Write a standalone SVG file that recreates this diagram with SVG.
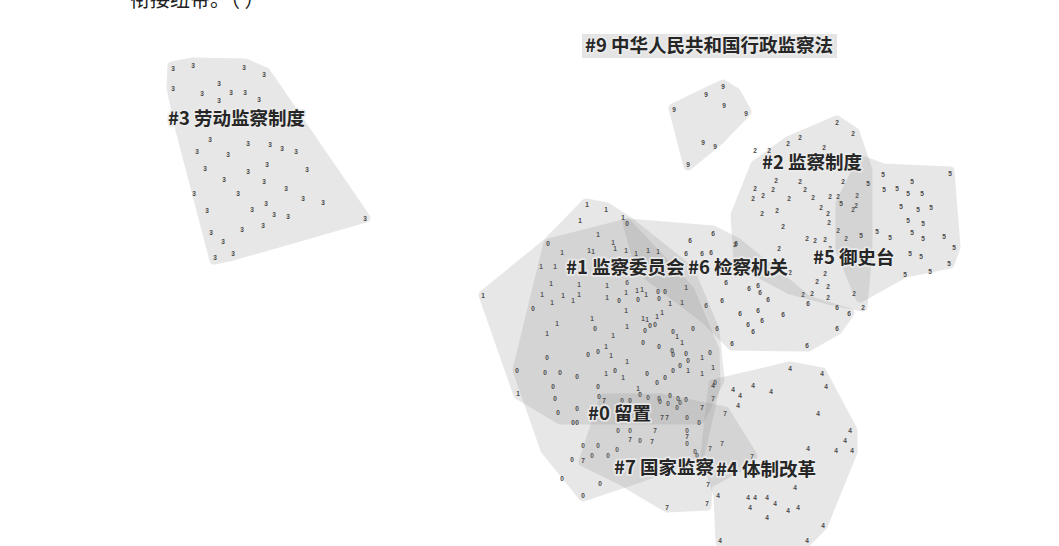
<svg xmlns="http://www.w3.org/2000/svg" width="1059" height="546" viewBox="0 0 1059 546">
<style>
.hull{opacity:0.2}
.hull polygon{fill:#8c8c8c;stroke:#8c8c8c;stroke-width:9;stroke-linejoin:round}
.d{font-family:"Liberation Sans",Arial,sans-serif;font-size:6.5px;font-weight:bold;fill:#4a4a4a;text-anchor:middle;dominant-baseline:central}
.lab{font-family:"Noto Sans CJK SC","Noto Sans",sans-serif;font-size:18.5px;font-weight:bold;fill:#262626;stroke:#ececec;stroke-opacity:0.85;stroke-width:3.5;stroke-linejoin:round;paint-order:stroke}
.top{font-family:"Noto Sans CJK SC",sans-serif;font-size:20px;fill:#222}
</style>
<rect width="1059" height="546" fill="#ffffff"/>
<text class="top" x="130" y="7">衔接纽带。（ ）</text>

<g id="cluster3">
<g class="hull"><polygon points="172,66 193,62 245,63 266,72 366,218 233,256 214,260 180,130 171,88"/></g>
<text class="d" x="173 193 244 264 173 219 202 231 245 219 259 210 248 270 282 296 197 228 205 248 267 307 224 264 194 238 286 303 323 266 207 252 274 288 365 263 242 211 223 215 233" y="68 65 67 74 88 83 93 92 92 100 99 139 143 144 148 151 151 154 168 171 164 169 179 181 193 193 188 198 202 203 210 209 214 216 218 225 229 232 241 257 253">33333333333333333333333333333333333333333</text>
</g>

<g id="cluster9">
<g class="hull"><polygon points="673,108 706,92 723,84 736,92 747,112 720,140 688,166"/></g>
<text class="d" x="674 706 723 724 746 703 715 688" y="109 94 86 105 113 142 146 164">99999999</text>
</g>

<g id="cluster2">
<g class="hull"><polygon points="755,165 788,141 837,120 855,132 868,170 868,250 863,307 828,300 790,290 738,262 735,215"/></g>
<text class="d" x="837 853 800 788 824 755 776 800 843 755 773 805 753 763 789 813 830 838 857 856 821 828 853 762 777 783 829 838 846 807 815 825 735 779 830 825 817 828 803 812 828 854 863 790 769" y="122 133 137 143 147 150 180 181 181 188 189 189 198 195 198 197 196 196 195 205 207 213 209 213 210 226 222 230 238 238 240 239 244 248 248 273 281 286 294 293 297 293 307 272 150">222222222222222222222222222222222222222222222</text>
</g>

<g id="cluster5">
<g class="hull"><polygon points="862,160 883,168 950,171 956,247 950,264 905,273 860,298 840,250 840,203"/></g>
<text class="d" x="883 912 950 868 884 897 908 922 841 901 918 931 908 923 877 861 890 912 923 944 954 910 921 949 930 905" y="174 181 173 183 189 188 193 193 203 206 209 207 220 223 231 235 237 232 238 236 247 253 256 263 271 274">55555555555555555555555555</text>
</g>

<g id="cluster6">
<g class="hull"><polygon points="627,223 713,230 737,242 808,300 850,313 838,330 808,347 732,346 706,320 640,270"/></g>
<text class="d" x="749 758 760 768 808 837 849 740 758 783 762 748 753 837 807 732 713 690 686 702 711 736 726 706 722 717 627" y="288 285 292 299 303 307 313 313 310 314 320 324 331 328 345 343 233 240 253 253 252 243 282 305 300 328 282">666666666666666666666666666</text>
</g>

<g id="cluster1">
<g class="hull"><polygon points="483,295 548,242 586,203 607,207 630,222 690,270 715,330 720,380 700,420 640,420 560,420 518,395"/></g>
<text class="d" x="587 606 623 580 598 613 615 589 593 626 636 648 658 562 541 555 551 579 607 542 563 579 626 637 642 646 607 552 573 670 682 686 483 626 662 643 647 657 592 557 547 627 613 606 677 682 611 627 702 606 623 688 702 518 638 713" y="204 209 217 220 234 242 248 250 251 250 253 250 251 252 266 266 283 284 285 294 295 294 292 290 289 294 297 302 300 303 302 287 295 310 312 318 319 316 318 323 333 326 335 346 336 342 355 361 357 373 377 370 373 393 388 367">11111111111111111111111111111111111111111111111111111111</text>
</g>

<g id="cluster0">
<g class="hull"><polygon points="548,243 627,223 690,290 715,350 716,385 700,455 640,478 583,497 545,450 517,370"/></g>
<text class="d" x="548 627 533 619 638 658 665 659 645 650 655 595 598 588 673 659 672 673 686 693 643 547 517 545 560 577 615 647 657 665 673 680 688 553 598 555 599 622 630 640 660 670 680 558 577 710 715 648 659 678 686 668 677 687 699 573 577 618 630 687 583 598 687 640 617 572 592 608 600 562 583 695 697" y="243 223 308 300 299 291 291 298 330 325 324 328 351 354 331 346 350 354 353 328 342 357 370 372 372 376 370 373 382 377 370 365 360 386 386 398 396 400 400 394 401 395 402 412 408 352 382 397 398 398 399 403 407 417 422 422 422 430 430 430 445 445 443 440 449 459 455 455 483 478 495 451 455">0000000000000000000000000000000000000000000000000000000000000000000000000</text>
</g>

<g id="cluster7">
<g class="hull"><polygon points="604,398 660,398 725,411 753,456 740,467 708,484 707,506 667,508 620,480 583,462"/></g>
<text class="d" x="604 713 702 725 630 652 655 662 667 687 710 722 583 752 708 667 707" y="400 398 407 413 439 441 430 417 417 436 448 443 460 456 484 507 503">77777777777777777</text>
</g>

<g id="cluster4">
<g class="hull"><polygon points="713,384 790,366 822,372 853,430 853,452 823,526 807,542 720,542 718,495 705,455"/></g>
<text class="d" x="733 740 753 771 713 738 790 822 826 818 850 845 852 836 808 795 767 775 755 750 798 767 788 823 807 720 718 748" y="389 395 385 391 385 405 368 373 386 413 430 440 450 450 448 487 497 503 497 507 507 517 510 525 540 540 495 497">4444444444444444444444444444</text>
</g>

<g id="labels">
<rect x="582" y="34" width="255" height="24" fill="#e4e4e4"/>
<text id="label9" class="lab" x="585" y="52">#9 中华人民共和国行政监察法</text>
<text id="label3" class="lab" x="168" y="125">#3 劳动监察制度</text>
<text id="label2" class="lab" x="762" y="169">#2 监察制度</text>
<text id="label1" class="lab" x="566" y="274">#1 监察委员会</text>
<text id="label6" class="lab" x="688" y="274">#6 检察机关</text>
<text id="label5" class="lab" x="813" y="264">#5 御史台</text>
<text id="label0" class="lab" x="588" y="420">#0 留置</text>
<text id="label7" class="lab" x="614" y="474">#7 国家监察</text>
<text id="label4" class="lab" x="716" y="476">#4 体制改革</text>
</g>
</svg>
